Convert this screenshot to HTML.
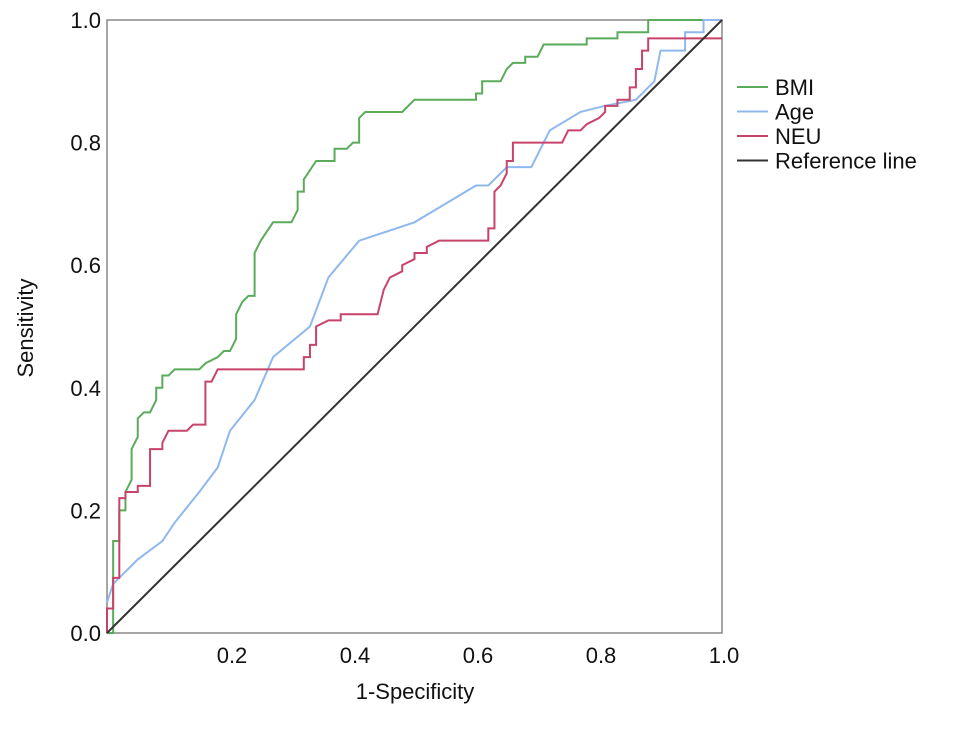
<!DOCTYPE html>
<html><head><meta charset="utf-8"><style>
body{margin:0;background:#fff;}
svg text{font-family:"Liberation Sans",Arial,sans-serif;fill:#111;}
</style></head><body>
<svg id="c" width="969" height="724">
<rect x="107" y="20" width="615" height="613" fill="none" stroke="#888" stroke-width="1.5"/>
<g id="ticks"></g>
<g id="series"></g>
<text x="415" y="699" font-size="22" text-anchor="middle">1-Specificity</text>
<text transform="translate(33,328) rotate(-90)" font-size="22" text-anchor="middle">Sensitivity</text>
<g id="legend"></g>
</svg>
<script>
const xTicks=[0.2,0.4,0.6,0.8,1.0];
const yTicks=[0.0,0.2,0.4,0.6,0.8,1.0];
const bmi=[[0,0],[0.01,0],[0.01,0.15],[0.02,0.15],[0.02,0.2],[0.03,0.2],[0.03,0.23],[0.04,0.25],[0.04,0.3],[0.05,0.32],[0.05,0.35],[0.06,0.36],[0.07,0.36],[0.08,0.38],[0.08,0.40],[0.09,0.40],[0.09,0.42],[0.1,0.42],[0.11,0.43],[0.15,0.43],[0.16,0.44],[0.18,0.45],[0.19,0.46],[0.2,0.46],[0.21,0.48],[0.21,0.52],[0.22,0.54],[0.23,0.55],[0.24,0.55],[0.24,0.62],[0.25,0.64],[0.27,0.67],[0.3,0.67],[0.31,0.69],[0.31,0.72],[0.32,0.72],[0.32,0.74],[0.34,0.77],[0.37,0.77],[0.37,0.79],[0.39,0.79],[0.4,0.80],[0.41,0.80],[0.41,0.84],[0.42,0.85],[0.48,0.85],[0.5,0.87],[0.6,0.87],[0.6,0.88],[0.61,0.88],[0.61,0.90],[0.64,0.90],[0.65,0.92],[0.66,0.93],[0.68,0.93],[0.68,0.94],[0.7,0.94],[0.71,0.96],[0.78,0.96],[0.78,0.97],[0.83,0.97],[0.83,0.98],[0.88,0.98],[0.88,1.0],[1,1]];
const age=[[0,0.05],[0.01,0.08],[0.03,0.10],[0.05,0.12],[0.09,0.15],[0.11,0.18],[0.15,0.23],[0.18,0.27],[0.2,0.33],[0.24,0.38],[0.27,0.45],[0.33,0.50],[0.36,0.58],[0.41,0.64],[0.5,0.67],[0.6,0.73],[0.62,0.73],[0.65,0.76],[0.69,0.76],[0.72,0.82],[0.77,0.85],[0.81,0.86],[0.86,0.87],[0.88,0.89],[0.89,0.9],[0.9,0.95],[0.94,0.95],[0.94,0.98],[0.97,0.98],[0.97,1.0],[1,1]];
const neu=[[0,0],[0,0.04],[0.01,0.04],[0.01,0.09],[0.02,0.09],[0.02,0.19],[0.02,0.22],[0.03,0.22],[0.03,0.23],[0.05,0.23],[0.05,0.24],[0.07,0.24],[0.07,0.30],[0.09,0.30],[0.09,0.31],[0.1,0.33],[0.13,0.33],[0.14,0.34],[0.16,0.34],[0.16,0.41],[0.17,0.41],[0.18,0.43],[0.32,0.43],[0.32,0.45],[0.33,0.45],[0.33,0.47],[0.34,0.47],[0.34,0.5],[0.36,0.51],[0.38,0.51],[0.38,0.52],[0.44,0.52],[0.45,0.56],[0.46,0.58],[0.48,0.59],[0.48,0.6],[0.5,0.61],[0.5,0.62],[0.52,0.62],[0.52,0.63],[0.54,0.64],[0.62,0.64],[0.62,0.66],[0.63,0.66],[0.63,0.72],[0.64,0.73],[0.65,0.75],[0.65,0.77],[0.66,0.77],[0.66,0.80],[0.74,0.80],[0.75,0.82],[0.77,0.82],[0.78,0.83],[0.8,0.84],[0.81,0.85],[0.81,0.86],[0.83,0.86],[0.83,0.87],[0.85,0.87],[0.85,0.89],[0.86,0.89],[0.86,0.92],[0.87,0.92],[0.87,0.95],[0.88,0.95],[0.88,0.97],[1,0.97]];
const refLine=[[0,0],[1,1]];
const seriesNames=["BMI","Age","NEU","Reference line"];
const NS="http://www.w3.org/2000/svg";
const X=v=>107+v*615, Y=v=>633-v*613;
const tg=document.getElementById('ticks');
xTicks.forEach(t=>{const e=document.createElementNS(NS,'text');e.setAttribute('x',X(t)+2);e.setAttribute('y',663);e.setAttribute('font-size','22');e.setAttribute('text-anchor','middle');e.textContent=t.toFixed(1);


tg.appendChild(e);});
yTicks.forEach(t=>{const e=document.createElementNS(NS,'text');e.setAttribute('x',101);e.setAttribute('y',Y(t)+8);e.setAttribute('font-size','22');e.setAttribute('text-anchor','end');e.textContent=t.toFixed(1);


tg.appendChild(e);});
const sg=document.getElementById('series');
const cols=["#5aab5a","#8fb8ef","#c8436a","#333"];
[bmi,age,neu,refLine].forEach((d,i)=>{const p=document.createElementNS(NS,'polyline');p.setAttribute('points',d.map(q=>X(q[0])+','+Y(q[1])).join(' '));p.setAttribute('fill','none');p.setAttribute('stroke',cols[i]);p.setAttribute('stroke-width','2');


sg.appendChild(p);});
const lg=document.getElementById('legend');
seriesNames.forEach((n,i)=>{const y=87+i*24.5;const l=document.createElementNS(NS,'line');l.setAttribute('x1',737);l.setAttribute('x2',768);l.setAttribute('y1',y);l.setAttribute('y2',y);l.setAttribute('stroke',cols[i]);l.setAttribute('stroke-width','2');


lg.appendChild(l);const t=document.createElementNS(NS,'text');t.setAttribute('x',775);t.setAttribute('y',y+8);t.setAttribute('font-size','22');t.textContent=n;


lg.appendChild(t);});
</script>
</body></html>
